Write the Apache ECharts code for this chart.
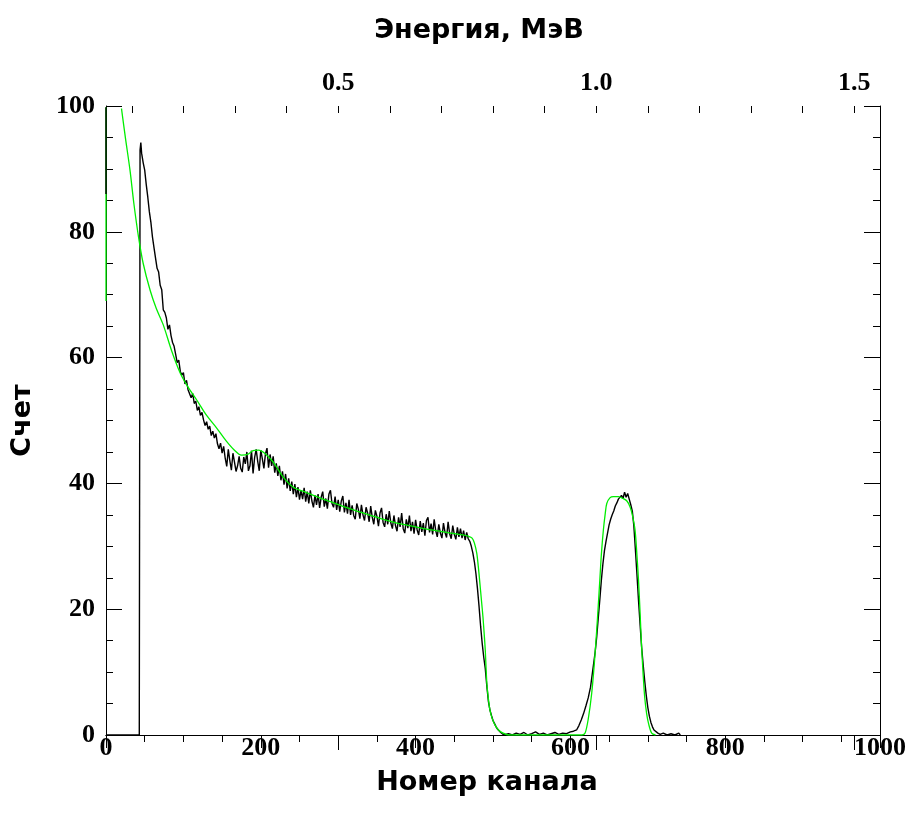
<!DOCTYPE html>
<html>
<head>
<meta charset="utf-8">
<script src="https://cdn.jsdelivr.net/npm/echarts@6/dist/echarts.min.js"></script>
<style>html,body{margin:0;padding:0;background:#fff}#c{width:915px;height:825px}</style>
</head>
<body>
<div id="c"></div>
<script>
// ---- data ----
const channelTicks = [0, 200, 400, 600, 800, 1000];
const countTicks = [0, 20, 40, 60, 80, 100];
const energyLabels = [0.5, 1.0, 1.5];
const energyMinorTicks = [0.1, 0.2, 0.3, 0.4, 0.5, 0.6, 0.7, 0.8, 0.9, 1.0, 1.1, 1.2, 1.3, 1.4, 1.5];

// measured spectrum (black): [channel, counts]
const measuredEdgeLeft = [[0,86],[0,99.8]];
const measuredStart = [[1,0],[43,0],[44,93],[45,94.2],[46,92.5],[48,91],[50,89.8],[52,87.5],[54,85.5],[56,83.2],[58,81.5],[60,79.2],[62,77.5],[64,75.8],[66,74.2],[68,73.6],[70,71.5],[72,70.8],[74,67.6],[76,67.2],[78,66.3],[80,64.5],[82,65.2],[84,63.5],[86,62.4],[88,61.8],[90,60.5],[92,59.2],[94,59.6],[96,57.8],[98,57.2],[100,57.6],[102,55.8],[104,56.4],[106,54.9],[108,55.2],[110,53.6],[112,54.3],[114,52.7],[116,53.1],[118,51.6],[120,52.2],[122,50.8],[124,51.3],[126,50.1],[128,49.2],[130,49.8],[132,48.6],[134,49.1],[136,47.6],[138,48.3],[140,47.2],[142,47.9],[144,46.3],[146,45.5],[148,46.4],[150,44.8]];
const measuredContinuum = [[152,45.9],[154,44.0],[156,42.7],[158,45.4],[160,43.6],[162,42.1],[164,44.8],[166,43.4],[168,41.9],[170,42.8],[172,44.3],[174,42.4],[176,41.8],[178,44.2],[180,43.1],[182,45.0],[184,42.0],[186,42.8],[188,45.2],[190,41.6],[192,44.1],[194,45.4],[196,43.5],[198,42.0],[200,45.3],[202,43.9],[204,42.4],[206,44.7],[208,45.6],[210,42.5],[212,44.6],[214,42.8],[216,44.3],[218,41.7],[220,43.2],[222,41.2],[224,42.8],[226,40.5],[228,41.9],[230,39.8],[232,41.5],[234,39.2],[236,40.8],[238,38.8],[240,40.3],[242,38.3],[244,39.9],[246,37.8],[248,39.4],[250,37.4],[252,38.9],[254,37.5],[256,39.3],[258,37.1],[260,38.7],[262,36.8],[264,38.9],[266,37.2],[268,36.2],[270,38.1],[272,36.6],[274,38.3],[276,36.1],[278,37.8],[280,38.7],[282,36.3],[284,37.6],[286,36.0],[288,38.3],[290,38.9],[292,36.8],[294,36.2],[296,37.9],[298,35.8],[300,37.4],[302,35.5],[304,37.2],[306,38.0],[308,35.4],[310,36.9],[312,35.2],[314,37.4],[316,35.0],[318,36.5],[320,34.9],[322,34.3],[324,36.8],[326,35.9],[328,34.4],[330,36.6],[332,35.0],[334,34.1],[336,36.2],[338,35.3],[340,33.9],[342,36.4],[344,34.6],[346,33.5],[348,35.7],[350,34.8],[352,33.2],[354,35.3],[356,36.1],[358,33.8],[360,33.1],[362,35.1],[364,33.5],[366,35.6],[368,33.7],[370,32.8],[372,34.9],[374,33.3],[376,32.4],[378,34.6],[380,33.1],[382,35.3],[384,32.8],[386,32.1],[388,34.3],[390,32.9],[392,34.9],[394,32.4],[396,33.9],[398,32.0],[400,34.2],[402,32.6],[404,31.8],[406,34.0],[408,32.3],[410,33.7],[412,31.7],[414,34.1],[416,34.6],[418,32.2],[420,33.6],[422,31.9],[424,34.3],[426,32.5],[428,31.5],[430,33.5],[432,32.1],[434,31.3],[436,33.7],[438,32.2],[440,31.4],[442,33.9],[444,32.0],[446,31.2],[448,33.3],[450,31.9],[452,31.1],[454,33.0],[456,31.5],[458,32.8],[460,31.3],[462,32.5],[464,31.0],[466,32.2],[468,31.2]];
const measuredEdge = [[470,30.8],[472,30.0],[474,28.9],[476,27.5],[478,25.6],[480,23.2],[482,20.4],[484,17.3],[486,14.6],[488,12.4],[490,10.6],[492,7.8],[494,5.4],[496,4.0],[498,3.1],[500,2.3],[502,1.8],[504,1.3],[506,0.9],[508,0.6],[510,0.4],[512,0.2],[514,0],[520,0.2],[525,0],[530,0.3],[535,0.1],[540,0.4],[545,0],[550,0.2],[555,0.5],[560,0.1],[565,0.3],[570,0],[575,0.2],[580,0.4],[585,0.1],[590,0.3],[595,0.2],[600,0.5],[604,0.6]];
const measuredPeak = [[608,0.8],[611,1.5],[614,2.4],[617,3.4],[620,4.6],[623,5.9],[626,7.6],[629,10.4],[632,13.2],[634,15.6],[636,18.6],[638,21.5],[640,24.6],[642,27.2],[644,29.3],[646,30.8],[648,32.1],[650,33.4],[652,34.3],[654,35.0],[656,35.6],[658,36.4],[660,36.9],[662,37.5],[664,37.2],[666,38.1],[668,37.6],[670,38.6],[672,37.8],[674,38.4],[676,37.5],[678,36.6],[680,35.6],[682,33.2],[684,29.4],[686,25.5],[688,21.4],[690,17.6],[692,14.0],[694,11.2],[696,8.6],[698,6.3],[700,4.4],[702,3.0],[704,2.0],[706,1.3],[708,0.8],[710,0.5],[713,0.3],[716,0.1],[720,0.3],[725,0],[730,0.2],[735,0],[740,0.3],[742,0]];

// fitted model (green): [channel, counts]
const modelEdgeLeft = [[0,69],[0,99.8]];
const modelCurve = [[20,99.6],[25,95],[31,89.8],[36,84.5],[42,79.2],[48,75],[57,70.7],[65,67.8],[74,65.2],[85,61],[96,57.5],[106,55.3],[117,53.3],[130,50.8],[143,48.8],[155,46.8],[165,45.4],[175,44.5],[183,44.6],[190,45.2],[197,45.3],[205,44.8],[216,43.4],[229,41],[242,39.4],[260,38.5],[276,37.7],[290,37.1],[310,36.2],[332,35.3],[355,34.4],[376,33.7],[400,33.1],[420,32.6],[440,32.2],[461,31.8],[468,31.6],[473,31.3],[476,30.5],[479,28.9],[481,26.8],[483,24.2],[485,21.5],[487,18.8],[489,15.4],[490,13.5],[492,8.3],[494,5.8],[496,4.0],[499,2.6],[502.5,1.6],[507,0.8],[513,0.3],[520,0],[615,0],[619,0.3],[623,2.5],[627.5,6.6],[631,11.5],[634,16.7],[636,20.6],[638,24.6],[640,28.7],[642.6,32.6],[645,35.2],[647,36.8],[651,37.7],[655.5,37.9],[662,37.9],[668,37.6],[673,37.2],[677,36.3],[680,35],[683.5,32.6],[686,28.5],[688,24.6],[690,19.5],[692,14],[694,9.6],[696,6],[698.5,3.4],[701,1.8],[705,0.3],[710,0]];

const measured = measuredStart.concat(measuredContinuum, measuredEdge, measuredPeak);

// ---- chart ----
const tickFont = { fontFamily: 'Liberation Serif', fontWeight: 'bold', fontSize: 26, color: '#000' };
const nameFont = { fontFamily: 'DejaVu Sans', fontWeight: 'bold', fontSize: 27, color: '#000' };
const line = { show: true, lineStyle: { color: '#000', width: 1 } };
const black = { color: '#000', width: 1.4 };
const green = { color: '#00ee00', width: 1.3 };

const chart = echarts.init(document.getElementById('c'), null, { renderer: 'canvas' });
chart.setOption({
  animation: false,
  backgroundColor: '#fff',
  grid: { left: 106, right: 35, top: 106, bottom: 90, containLabel: false, outerBoundsMode: 'none' },
  xAxis: [
    {
      type: 'value', position: 'bottom', min: 0, max: 1000, interval: 200,
      axisLine: line,
      axisTick: { show: true, inside: false, length: 13, lineStyle: { color: '#000' } },
      minorTick: { show: true, splitNumber: 4, length: 7, lineStyle: { color: '#000' } },
      splitLine: { show: false },
      axisLabel: Object.assign({ margin: 0, customValues: channelTicks, formatter: v => String(v) }, tickFont),
      name: 'Номер канала', nameLocation: 'middle', nameGap: 34,
      nameTextStyle: Object.assign({ padding: [0, 12, 0, 0] }, nameFont)
    },
    {
      type: 'value', position: 'top', min: 0.05, max: 1.55,
      axisLine: line,
      axisTick: { show: true, inside: true, length: 15, customValues: energyLabels, lineStyle: { color: '#000' } },
      splitLine: { show: false },
      axisLabel: Object.assign({ margin: 10, customValues: energyLabels, formatter: v => v.toFixed(1) }, tickFont),
      name: 'Энергия, МэВ', nameLocation: 'middle', nameGap: 62,
      nameTextStyle: Object.assign({ padding: [0, 28, 0, 0] }, nameFont)
    },
    {
      type: 'value', position: 'top', min: 0.05, max: 1.55,
      axisLine: { show: false },
      axisTick: { show: true, inside: true, length: 7, customValues: energyMinorTicks, lineStyle: { color: '#000' } },
      splitLine: { show: false },
      axisLabel: { show: false }
    }
  ],
  yAxis: [
    {
      type: 'value', position: 'left', min: 0, max: 100, interval: 20,
      axisLine: line,
      axisTick: { show: true, inside: true, length: 16, lineStyle: { color: '#000' } },
      minorTick: { show: true, splitNumber: 4, length: 7, lineStyle: { color: '#000' } },
      splitLine: { show: false },
      axisLabel: Object.assign({ margin: 11, customValues: countTicks }, tickFont),
      name: 'Счет', nameLocation: 'middle', nameGap: 70, nameTextStyle: nameFont
    },
    {
      type: 'value', position: 'right', min: 0, max: 100, interval: 20,
      axisLine: line,
      axisTick: { show: true, inside: true, length: 16, lineStyle: { color: '#000' } },
      minorTick: { show: true, splitNumber: 4, length: 7, lineStyle: { color: '#000' } },
      splitLine: { show: false },
      axisLabel: { show: false }
    }
  ],
  series: [
    {
      name: 'measured', type: 'line', xAxisIndex: 0, yAxisIndex: 0, data: measured,
      showSymbol: false, symbol: 'none', clip: true, z: 3, lineStyle: black
    },
    {
      name: 'model', type: 'line', xAxisIndex: 0, yAxisIndex: 0, data: modelCurve,
      showSymbol: false, symbol: 'none', clip: true, smooth: 0.3, z: 4, lineStyle: green
    },
    {
      name: 'model edge', type: 'line', xAxisIndex: 0, yAxisIndex: 0, data: modelEdgeLeft,
      showSymbol: false, symbol: 'none', clip: true, z: 4, lineStyle: green
    },
    {
      name: 'measured edge', type: 'line', xAxisIndex: 0, yAxisIndex: 0, data: measuredEdgeLeft,
      showSymbol: false, symbol: 'none', clip: true, z: 5, lineStyle: black
    }
  ]
});
</script>
</body>
</html>
